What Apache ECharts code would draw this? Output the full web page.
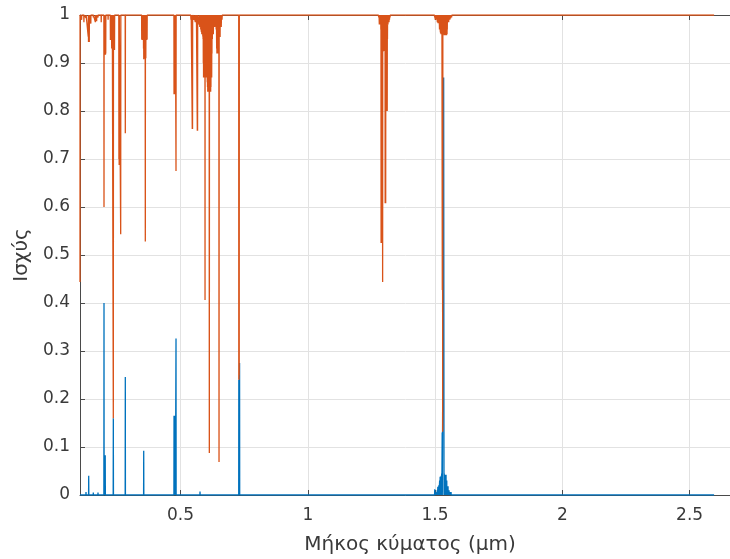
<!DOCTYPE html>
<html>
<head>
<meta charset="utf-8">
<script src="https://cdn.jsdelivr.net/npm/echarts@6/dist/echarts.min.js"></script>
<style>
html,body{margin:0;padding:0;background:#fff;}
#chart{width:730px;height:559px;}
</style>
</head>
<body>
<div id="chart"></div>
<script>
// ---- texts and axis values ----
const xAxisName = 'Μήκος κύματος (μm)';
const yAxisName = 'Ισχύς';
const yTickValues = [0, 0.1, 0.2, 0.3, 0.4, 0.5, 0.6, 0.7, 0.8, 0.9, 1];
const xRange = [0.1051, 2.698];

// ---- blue series (transmitted power), [wavelength μm, value] ----
const blueUV = [[0.1051,0],[0.1282,0],[0.1287,0.006],[0.1292,0],[0.1388,0],[0.1393,0.04],[0.1398,0],
  [0.1569,0],[0.1574,0.005],[0.1579,0],[0.1753,0],[0.1758,0.005],[0.1763,0],
  [0.1989,0],[0.1994,0.40],[0.1999,0],[0.2017,0],[0.2022,0.083],[0.2027,0],[0.2032,0.083],[0.2037,0],[0.2042,0.083],[0.2047,0],
  [0.2355,0],[0.2360,0.16],[0.2366,0],[0.2826,0],[0.2831,0.246],[0.2836,0],[0.3549,0],[0.3554,0.092],[0.3559,0]];
const blueVis = [[0.4740,0],[0.4745,0.165],[0.4750,0],[0.4755,0.165],[0.4760,0],[0.4765,0.165],[0.4770,0],
  [0.4775,0.165],[0.4780,0],[0.4785,0.165],[0.4790,0],[0.4795,0.165],[0.4800,0],[0.4818,0],[0.4823,0.326],[0.4828,0],
  [0.5761,0],[0.5766,0.007],[0.5771,0],
  [0.7286,0],[0.7290,0.24],[0.7294,0],[0.7298,0.24],[0.7302,0],[0.7306,0.24],[0.7310,0],[0.7320,0.275],[0.7325,0]];
const blueIR = [[1.4980,0],[1.4988,0.012],[1.4996,0],[1.5000,0.005],[1.5005,0],[1.5060,0.005],[1.5065,0],[1.5090,0.01],[1.5095,0],
  [1.5110,0.017],[1.5115,0],[1.5120,0.017],[1.5125,0],[1.5150,0.02],[1.5155,0],[1.5180,0.03],[1.5185,0],
  [1.5200,0.038],[1.5205,0],[1.5210,0.038],[1.5215,0],[1.5220,0.038],[1.5225,0],[1.5240,0.04],[1.5245,0],[1.5260,0.045],[1.5265,0],
  [1.5280,0.13],[1.5285,0],[1.5318,0.48],[1.5326,0.2],[1.5338,0.87],[1.5345,0.87],[1.5352,0],
  [1.5360,0.045],[1.5365,0],[1.5380,0.04],[1.5385,0],[1.5400,0.042],[1.5405,0],[1.5420,0.042],[1.5425,0],[1.5432,0.042],[1.5437,0],
  [1.5460,0.03],[1.5465,0],[1.5483,0.018],[1.5488,0],[1.5510,0.018],[1.5515,0],[1.5550,0.01],[1.5555,0],
  [1.5600,0.006],[1.5605,0],[1.5629,0.006],[1.5634,0],[2.5962,0]];

// ---- orange series (reflected power), [wavelength μm, value] ----
const orangeUV = [[0.1051,0.444],[0.1053,1],[0.1110,1],[0.1115,0.99],[0.1120,1],[0.1200,1],[0.1205,0.985],[0.1210,1],
  [0.1282,1],[0.1287,0.994],[0.1292,1],
  [0.1370,1],[0.1375,0.955],[0.1380,1],[0.1385,0.944],[0.1390,1],[0.1395,0.944],[0.1400,1],[0.1405,0.95],[0.1410,1],[0.1415,0.944],[0.1420,1],
  [0.1471,1],[0.1476,0.982],[0.1481,1],[0.1569,1],[0.1574,0.995],[0.1579,1],[0.1650,1],[0.1655,0.985],[0.1660,1],
  [0.1700,1],[0.1705,0.987],[0.1710,1],[0.1753,1],[0.1758,0.995],[0.1763,1],[0.1880,1],[0.1885,0.985],[0.1890,1],
  [0.1989,1],[0.1994,0.60],[0.1999,1],
  [0.2012,0.93],[0.2017,1],[0.2022,0.917],[0.2027,1],[0.2032,0.917],[0.2037,1],[0.2042,0.917],[0.2047,1],[0.2052,0.917],[0.2057,1],[0.2062,0.92],[0.2067,1],
  [0.2150,1],[0.2155,0.99],[0.2160,1],
  [0.2241,1],[0.2246,0.948],[0.2251,1],[0.2256,0.948],[0.2261,1],[0.2266,0.948],[0.2271,1],[0.2276,0.948],[0.2281,1],[0.2286,0.95],[0.2291,1],
  [0.2296,0.93],[0.2301,1],[0.2306,0.93],[0.2311,1],[0.2316,0.93],[0.2321,1],
  [0.2355,1],[0.2360,0.16],[0.2366,1],[0.2402,1],[0.2407,0.927],[0.2412,1],
  [0.2575,1],[0.2580,0.70],[0.2585,1],[0.2590,0.6875],[0.2595,1],[0.2645,1],[0.2650,0.543],[0.2655,1],
  [0.2826,1],[0.2831,0.7535],[0.2836,1]];
const orangeViolet = [[0.3471,1],[0.3476,0.95],[0.3481,1],[0.3486,0.948],[0.3491,1],[0.3496,0.948],[0.3501,1],[0.3506,0.948],[0.3511,1],
  [0.3516,0.948],[0.3521,1],[0.3526,0.948],[0.3531,1],[0.3536,0.948],[0.3541,1],[0.3546,0.93],[0.3551,1],[0.3556,0.908],[0.3561,1],
  [0.3566,0.91],[0.3571,1],[0.3576,0.91],[0.3581,1],[0.3586,0.91],[0.3591,1],[0.3596,0.91],[0.3601,1],[0.3606,0.91],[0.3611,1],
  [0.3617,0.528],[0.3622,1],[0.3627,0.91],[0.3632,1],[0.3637,0.91],[0.3642,1],[0.3647,0.948],[0.3652,1],[0.3657,0.948],[0.3662,1],
  [0.3667,0.948],[0.3672,1],[0.3677,0.948],[0.3682,1],[0.3687,0.95],[0.3692,1],
  [0.4740,1],[0.4745,0.835],[0.4750,1],[0.4755,0.835],[0.4760,1],[0.4765,0.835],[0.4770,1],[0.4775,0.835],[0.4780,1],
  [0.4785,0.835],[0.4790,1],[0.4795,0.835],[0.4800,1],[0.4818,1],[0.4823,0.675],[0.4828,1]];
const orangeGreenYellow = [[0.5400,1],[0.5410,0.99],[0.5420,1],[0.5457,1],[0.5462,0.7625],[0.5467,1],[0.5472,0.7625],[0.5477,1],
  [0.5515,1],[0.5520,0.99],[0.5525,1],[0.5575,1],[0.5580,0.985],[0.5585,1],[0.5615,1],[0.5620,0.99],[0.5625,1],
  [0.5655,1],[0.5660,0.759],[0.5665,1],[0.5670,0.759],[0.5675,1],
  [0.5730,1],[0.5735,0.98],[0.5740,1],[0.5745,0.99],[0.5750,1],[0.5755,0.975],[0.5760,1],[0.5766,0.993],[0.5770,1],[0.5775,0.98],[0.5780,1],
  [0.5785,0.99],[0.5790,1],[0.5795,0.97],[0.5800,1],[0.5805,0.985],[0.5810,1],[0.5815,0.965],[0.5820,1],[0.5825,0.98],[0.5830,1],
  [0.5835,0.96],[0.5840,1],[0.5845,0.975],[0.5850,1],[0.5855,0.96],[0.5860,1],[0.5865,0.97],[0.5870,1],[0.5875,0.955],[0.5880,1],[0.5885,0.95],[0.5890,1]];
const orangeOrangeRed = [[0.5895,0.90],[0.5900,1],[0.5905,0.87],[0.5910,1],[0.5915,0.88],[0.5920,1],[0.5925,0.87],[0.5930,1],[0.5935,0.87],[0.5940,1],
  [0.5945,0.88],[0.5950,1],[0.5955,0.87],[0.5960,1],[0.5963,0.406],[0.5966,1],[0.5970,0.87],[0.5975,1],[0.5980,0.87],[0.5985,1],
  [0.5990,0.88],[0.5995,1],[0.6000,0.87],[0.6005,1],[0.6010,0.87],[0.6015,1],[0.6020,0.87],[0.6025,1],[0.6030,0.87],[0.6035,1],
  [0.6040,0.87],[0.6045,1],[0.6050,0.86],[0.6055,1],[0.6060,0.85],[0.6065,1],
  [0.6070,0.84],[0.6075,1],[0.6080,0.84],[0.6085,1],[0.6090,0.84],[0.6095,1],[0.6100,0.84],[0.6105,1],[0.6110,0.84],[0.6115,1],
  [0.6120,0.84],[0.6125,1],[0.6132,0.0875],[0.6138,1],[0.6145,0.84],[0.6150,1],[0.6155,0.84],[0.6160,1],[0.6165,0.84],[0.6170,1],
  [0.6175,0.84],[0.6180,1],[0.6185,0.84],[0.6190,1],[0.6195,0.85],[0.6200,1],
  [0.6205,0.87],[0.6210,1],[0.6215,0.87],[0.6220,1],[0.6225,0.87],[0.6230,1],[0.6235,0.92],[0.6240,1],[0.6250,0.95],[0.6260,1],
  [0.6270,0.97],[0.6280,1],[0.6290,0.96],[0.6300,1],[0.6315,0.985],[0.6330,1],[0.6345,0.975],[0.6360,1],[0.6375,0.99],[0.6390,1],
  [0.6400,0.97],[0.6410,1],
  [0.6420,0.93],[0.6425,1],[0.6430,0.92],[0.6435,1],[0.6440,0.92],[0.6445,1],[0.6450,0.92],[0.6455,1],[0.6460,0.92],[0.6465,1],
  [0.6470,0.92],[0.6475,1],[0.6480,0.92],[0.6485,1],[0.6490,0.93],[0.6495,1],[0.6500,0.96],[0.6507,1],[0.6513,0.069],[0.6519,1],
  [0.6525,0.954],[0.6530,1],[0.6535,0.954],[0.6540,1],[0.6545,0.954],[0.6550,1],[0.6555,0.954],[0.6560,1],
  [0.6570,0.98],[0.6580,1],[0.6600,0.975],[0.6610,1],[0.6630,0.99],[0.6640,1],
  [0.7286,1],[0.7290,0.24],[0.7294,1],[0.7298,0.24],[0.7302,1],[0.7306,0.25],[0.7310,1]];
const orange1300 = [[1.2770,1],[1.2790,0.995],[1.2800,1],[1.2810,0.98],[1.2815,1],[1.2820,0.98],[1.2825,1],[1.2830,0.98],[1.2835,1],
  [1.2845,0.99],[1.2850,1],[1.2860,0.98],[1.2865,1],[1.2870,0.97],[1.2875,1],
  [1.2880,0.525],[1.2885,1],[1.2890,0.525],[1.2895,1],[1.2900,0.525],[1.2905,1],[1.2910,0.525],[1.2915,1],
  [1.2920,0.924],[1.2925,1],[1.2930,0.924],[1.2935,1],[1.2940,0.444],[1.2945,1],[1.2950,0.924],[1.2955,1],[1.2960,0.924],[1.2965,1],
  [1.2970,0.925],[1.2975,1],[1.2980,0.925],[1.2985,1],[1.2990,0.925],[1.2995,1],[1.3000,0.925],[1.3005,1],[1.3010,0.925],[1.3015,1],
  [1.3020,0.925],[1.3025,1],[1.3030,0.925],[1.3035,1],
  [1.3040,0.608],[1.3045,1],[1.3050,0.608],[1.3055,1],[1.3060,0.608],[1.3065,1],[1.3070,0.925],[1.3075,1],[1.3080,0.925],[1.3085,1],
  [1.3090,0.93],[1.3095,1],[1.3100,0.93],[1.3105,1],
  [1.3110,0.80],[1.3115,1],[1.3120,0.80],[1.3125,1],[1.3130,0.95],[1.3135,1],[1.3150,0.98],[1.3160,1],[1.3170,0.99],[1.3180,1],
  [1.3190,0.985],[1.3200,1],[1.3210,0.99],[1.3220,1],[1.3230,0.995],[1.3240,1]];
const orange1550 = [[1.4975,1],[1.4985,0.995],[1.4995,1],[1.5005,0.99],[1.5015,1],[1.5030,0.995],[1.5045,1],[1.5060,0.99],[1.5070,1],
  [1.5090,0.985],[1.5100,1],[1.5118,0.983],[1.5125,1],[1.5150,0.985],[1.5160,1],
  [1.5175,0.97],[1.5180,1],[1.5185,0.97],[1.5190,1],[1.5195,0.97],[1.5200,1],[1.5205,0.965],[1.5210,1],[1.5215,0.962],[1.5220,1],
  [1.5225,0.962],[1.5230,1],[1.5235,0.96],[1.5240,1],[1.5245,0.96],[1.5250,1],[1.5255,0.96],[1.5260,1],[1.5265,0.96],[1.5270,1],
  [1.5285,0.427],[1.5290,1],[1.5300,0.132],[1.5306,1],[1.5315,1],
  [1.5330,0.96],[1.5335,1],[1.5340,0.96],[1.5345,1],[1.5350,0.96],[1.5355,1],[1.5360,0.958],[1.5365,1],[1.5370,0.958],[1.5375,1],
  [1.5380,0.958],[1.5385,1],[1.5390,0.958],[1.5395,1],[1.5400,0.958],[1.5405,1],[1.5410,0.958],[1.5415,1],[1.5420,0.958],[1.5425,1],
  [1.5430,0.958],[1.5435,1],[1.5440,0.958],[1.5445,1],[1.5450,0.958],[1.5455,1],[1.5460,0.96],[1.5465,1],[1.5470,0.96],[1.5475,1],
  [1.5480,0.97],[1.5485,1],[1.5495,0.985],[1.5505,1],[1.5515,0.99],[1.5525,1],[1.5535,0.985],[1.5545,1],[1.5555,0.99],[1.5565,1],
  [1.5580,0.99],[1.5590,1],[1.5610,0.993],[1.5620,1],[1.5650,0.995],[1.5660,1],[1.5700,0.997],[1.5720,1],
  [2.5962,1]];

const blueData = [].concat(blueUV, blueVis, blueIR);
const orangeData = [].concat(orangeUV, orangeViolet, orangeGreenYellow, orangeOrangeRed, orange1300, orange1550);

const axisColor = '#4a4a4a';
const textColor = '#3a3a3a';
const gridColor = '#e2e2e2';
const font = 'DejaVu Sans';

const chart = echarts.init(document.getElementById('chart'), null, {renderer: 'canvas'});
chart.setOption({
  animation: false,
  backgroundColor: '#ffffff',
  grid: {left: 80, width: 660, top: 15, bottom: 64, containLabel: false, outerBoundsMode: 'none'},
  xAxis: [{
    type: 'value', min: xRange[0], max: xRange[1], splitNumber: 5,
    name: xAxisName, nameLocation: 'middle', nameGap: 40,
    nameTextStyle: {fontSize: 20, color: textColor, fontFamily: font},
    axisLine: {show: true, lineStyle: {color: axisColor, width: 1}},
    axisTick: {show: true, inside: true, length: 5, lineStyle: {color: axisColor}},
    axisLabel: {show: true, margin: 12, fontSize: 17, color: textColor, fontFamily: font,
      showMinLabel: false, showMaxLabel: false, formatter: v => String(+v.toFixed(2))},
    splitLine: {show: true, lineStyle: {color: gridColor, width: 1}}
  }, {
    type: 'value', position: 'top', min: xRange[0], max: xRange[1], splitNumber: 5,
    axisLine: {show: true, lineStyle: {color: axisColor, width: 1}},
    axisTick: {show: true, inside: true, length: 5, lineStyle: {color: axisColor}},
    axisLabel: {show: false},
    splitLine: {show: false}
  }],
  yAxis: {
    type: 'value', min: yTickValues[0], max: yTickValues[yTickValues.length - 1], interval: 0.1,
    name: yAxisName, nameLocation: 'middle', nameGap: 46,
    nameTextStyle: {fontSize: 20, color: textColor, fontFamily: font},
    axisLine: {show: true, lineStyle: {color: axisColor, width: 1}},
    axisTick: {show: true, inside: true, length: 5, lineStyle: {color: axisColor}},
    axisLabel: {margin: 10, fontSize: 17, color: textColor, fontFamily: font,
      formatter: v => String(+v.toFixed(1))},
    splitLine: {show: true, lineStyle: {color: gridColor, width: 1}}
  },
  series: [{
    type: 'line', name: 'blue', data: blueData, showSymbol: false, symbol: 'none',
    lineStyle: {color: '#0072BD', width: 1.3}, itemStyle: {color: '#0072BD'}, z: 2, sampling: null
  }, {
    type: 'line', name: 'orange', data: orangeData, showSymbol: false, symbol: 'none',
    lineStyle: {color: '#D95319', width: 1.3}, itemStyle: {color: '#D95319'}, z: 3, sampling: null
  }]
});
</script>
</body>
</html>
